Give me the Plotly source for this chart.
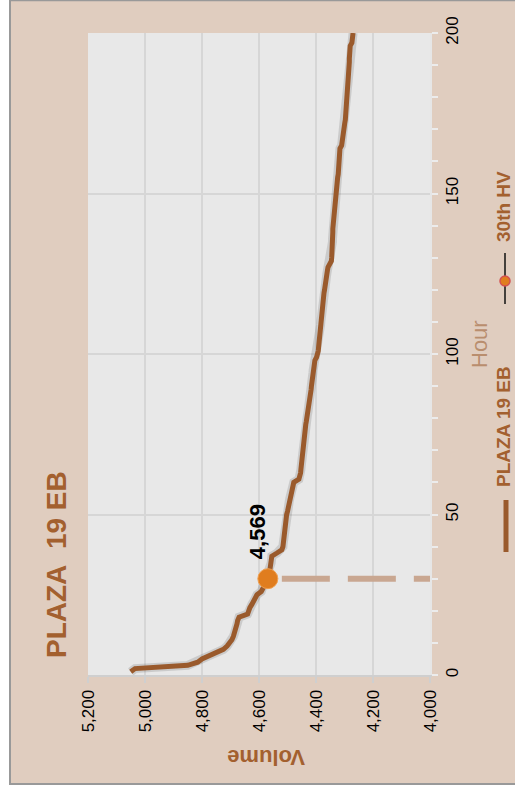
import plotly.graph_objects as go

# ---------------- data ----------------
hours = list(range(1, 201))
volumes = [
    5050, 5035, 4850, 4815, 4800, 4775, 4740, 4725, 4712, 4702,
    4695, 4690, 4686, 4683, 4680, 4677, 4675, 4670, 4640, 4637,
    4632, 4625, 4618, 4612, 4607, 4592, 4588, 4580, 4575, 4569,
    4566, 4563, 4561, 4559, 4557, 4556, 4555, 4537, 4520, 4516,
    4515, 4514, 4513, 4512, 4511, 4510, 4509, 4508, 4506, 4503,
    4500, 4498, 4496, 4494, 4492, 4490, 4488, 4485, 4482, 4478,
    4460, 4455, 4454, 4453, 4452, 4451, 4450, 4450, 4449, 4448,
    4447, 4446, 4445, 4443, 4441, 4440, 4438, 4436, 4434, 4432,
    4430, 4428, 4426, 4424, 4421, 4420, 4419, 4418, 4417, 4416,
    4415, 4414, 4412, 4411, 4410, 4408, 4406, 4404, 4398, 4394,
    4392, 4391, 4390, 4389, 4388, 4387, 4386, 4385, 4384, 4383,
    4382, 4381, 4381, 4380, 4380, 4379, 4378, 4374, 4372, 4370,
    4369, 4368, 4367, 4364, 4362, 4360, 4358, 4350, 4346, 4345,
    4344, 4344, 4343, 4343, 4342, 4342, 4341, 4341, 4341, 4340,
    4340, 4340, 4339, 4338, 4337, 4336, 4335, 4334, 4333, 4333,
    4332, 4331, 4330, 4326, 4324, 4322, 4321, 4320, 4319, 4318,
    4318, 4317, 4317, 4316, 4310, 4309, 4308, 4307, 4306, 4305,
    4304, 4299, 4297, 4296, 4295, 4294, 4293, 4292, 4291, 4290,
    4289, 4289, 4288, 4288, 4287, 4286, 4285, 4285, 4284, 4284,
    4283, 4283, 4282, 4282, 4281, 4280, 4274, 4272, 4271, 4270,
]
hv_hour = [30]
hv_volume = [4569]
hv_label = ["4,569"]
volume_ticks = [5200, 5000, 4800, 4600, 4400, 4200, 4000]
volume_tick_labels = ["5,200", "5,000", "4,800", "4,600", "4,400", "4,200", "4,000"]
hour_ticks = [0, 50, 100, 150, 200]

title_text = "PLAZA\u00a0 19 EB"
series_name = "PLAZA 19 EB"
hv_name = "30th HV"

# ---------------- layout geometry (pixels) ----------------
W, H = 515, 787
PL, PR, PT, PB = 88, 430, 33, 675   # plot area edges


def px(xp):
    return (xp - PL) / (PR - PL)


def py(yp):
    return (PB - yp) / (PB - PT)


TAN = "#e0cdbf"
BROWN = "#9a5a2c"
TITLE_BROWN = "#a3602f"
FONT = "Arial, Liberation Sans, sans-serif"

fig = go.Figure()

# soft shadow of the main line
fig.add_trace(go.Scatter(
    x=volumes, y=hours, mode="lines",
    line=dict(color="rgba(0,0,0,0.12)", width=9),
    hoverinfo="skip", showlegend=False,
))
# main line
fig.add_trace(go.Scatter(
    x=volumes, y=hours, mode="lines", name=series_name,
    line=dict(color=BROWN, width=5),
    showlegend=False,
))
# dashed drop line from the 30th hour to the axis
fig.add_trace(go.Scatter(
    x=[hv_volume[0], volume_ticks[-1]], y=[hv_hour[0], hv_hour[0]],
    mode="lines",
    line=dict(color="#c9a791", width=6, dash="0px,14px,48px,4px"),
    hoverinfo="skip", showlegend=False,
))
# 30th HV marker
fig.add_trace(go.Scatter(
    x=hv_volume, y=hv_hour, mode="markers", name=hv_name,
    marker=dict(size=20, color="#e07d1e", line=dict(color="#f0a050", width=1)),
    showlegend=False,
))


def note(x, y, text, size, color, angle=-90, ref="paper"):
    return dict(x=x, y=y, xref=ref if ref == "paper" else "x", yref=ref if ref == "paper" else "y",
                text=text, showarrow=False, textangle=angle,
                xanchor="center", yanchor="middle",
                font=dict(family=FONT, size=size, color=color))


annotations = [
    note(4607, 44.5, "<b>" + hv_label[0] + "</b>", 22, "#000000", ref="data"),
    note(px(56), py(565), "<b>" + title_text + "</b>", 28, TITLE_BROWN),
    note(px(266), py(757), "<b>Volume</b>", 22, TITLE_BROWN, angle=180),
    note(px(479), py(344), "Hour", 22, "#b98e6e"),
    note(px(503), py(427), "<b>" + series_name + "</b>", 19, TITLE_BROWN),
    note(px(503), py(207), "<b>" + hv_name + "</b>", 19, TITLE_BROWN),
]

shapes = [
    # white margin strips outside the chart frame
    dict(type="rect", xref="paper", yref="paper", x0=px(-5), x1=px(10), y0=py(-5), y1=py(H + 5),
         fillcolor="white", line=dict(width=0), layer="above"),
    dict(type="rect", xref="paper", yref="paper", x0=px(10), x1=px(W + 5), y0=py(785), y1=py(H + 5),
         fillcolor="white", line=dict(width=0), layer="above"),
    # frame border lines
    dict(type="line", xref="paper", yref="paper", x0=px(10), x1=px(10), y0=py(0), y1=py(785),
         line=dict(color="#999999", width=2), layer="above"),
    dict(type="line", xref="paper", yref="paper", x0=px(10), x1=px(W + 5), y0=py(784), y1=py(784),
         line=dict(color="#999999", width=2), layer="above"),
    dict(type="line", xref="paper", yref="paper", x0=px(10), x1=px(W + 5), y0=py(0.5), y1=py(0.5),
         line=dict(color="#999999", width=1.5), layer="above"),
    # legend symbol: main series
    dict(type="line", xref="paper", yref="paper", x0=px(506), x1=px(506), y0=py(500), y1=py(552),
         line=dict(color=BROWN, width=5), layer="above"),
    # legend symbol: 30th HV
    dict(type="line", xref="paper", yref="paper", x0=px(505), x1=px(505), y0=py(253), y1=py(304),
         line=dict(color="#111111", width=1.5), layer="above"),
    dict(type="circle", xref="paper", yref="paper", x0=px(500), x1=px(510), y0=py(276), y1=py(286),
         fillcolor="#e07d1e", line=dict(color="#d45050", width=1.5), layer="above"),
]

fig.update_layout(
    width=W, height=H, autosize=False,
    margin=dict(l=PL, r=W - PR, t=PT, b=H - PB, pad=0),
    paper_bgcolor=TAN,
    plot_bgcolor="#e8e8e8",
    showlegend=False,
    annotations=annotations,
    shapes=shapes,
    font=dict(family=FONT, size=17, color="#000000"),
    xaxis=dict(
        range=[5200, 4000], tickmode="array", tickvals=volume_ticks, ticktext=volume_tick_labels,
        tickangle=-90, side="bottom", showgrid=True, gridcolor="#d6d6d6", gridwidth=1.5,
        zeroline=False, showline=True, linecolor="#cfcfcf", linewidth=2,
        ticks="outside", ticklen=6, tickcolor="#cfcfcf", tickwidth=1.5,
        tickfont=dict(size=17, color="#000000"), fixedrange=True, automargin=False,
    ),
    yaxis=dict(
        range=[0, 200], tickmode="array", tickvals=hour_ticks,
        tickangle=-90, side="right", showgrid=True, gridcolor="#d6d6d6", gridwidth=1.5,
        zeroline=False, showline=True, linecolor="#e6e6e6", linewidth=2,
        ticks="outside", ticklen=6, tickcolor="#ececec", tickwidth=1.5,
        minor=dict(dtick=10, ticks="outside", ticklen=6, tickcolor="#ececec", showgrid=False),
        tickfont=dict(size=17, color="#000000"), fixedrange=True, automargin=False,
    ),
)

fig.write_html("out.html", config={"displayModeBar": False},
               post_script="document.body.style.margin='0px';")
